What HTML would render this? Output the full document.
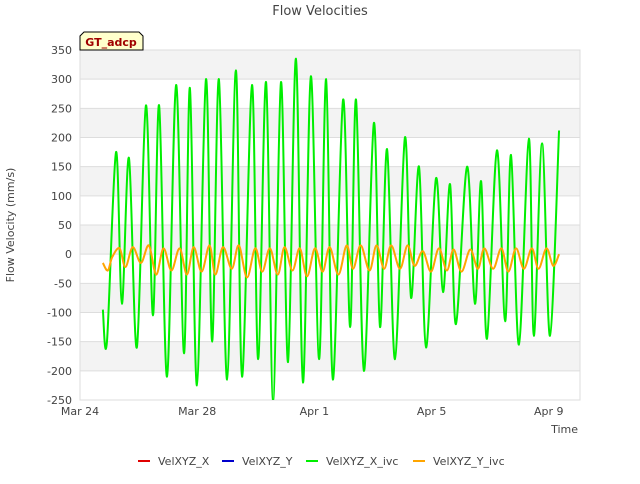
<!DOCTYPE html>
<html><head><meta charset="utf-8"><style>
body{margin:0;background:#fff;font-family:"DejaVu Sans","Liberation Sans",sans-serif}
</style></head><body>
<svg width="640" height="480" font-family="DejaVu Sans, Liberation Sans, sans-serif">
<defs><clipPath id="pc"><rect x="80" y="50" width="500" height="350"/></clipPath></defs>
<rect width="640" height="480" fill="#fff"/>
<g id="bands"></g>
<g id="grid"></g>
<rect x="80" y="50" width="500" height="350" fill="none" stroke="#ddd"/>
<text x="320" y="15" text-anchor="middle" font-size="13" fill="#444">Flow Velocities</text>
<text x="14" y="225" transform="rotate(-90 14 225)" text-anchor="middle" font-size="11" fill="#444">Flow Velocity (mm/s)</text>
<text x="578" y="433" text-anchor="end" font-size="11" fill="#444">Time</text>
<g id="yt" font-size="11" fill="#444" text-anchor="end"></g>
<g id="xt" font-size="11" fill="#444" text-anchor="middle"></g>
<g id="series" clip-path="url(#pc)"></g>
<g>
<path d="M80,50 L80,36 L84,32 L139,32 L143,36 L143,50 Z" fill="#ffffcc" stroke="#000"/>
<text x="111" y="46" text-anchor="middle" font-size="11" font-weight="bold" fill="#a00000">GT_adcp</text>
</g>
<g font-size="11" fill="#444">
<g><line x1="138" y1="461" x2="150" y2="461" stroke="#e00000" stroke-width="2"/><text x="158" y="465">VelXYZ_X</text></g>
<g><line x1="222" y1="461" x2="234" y2="461" stroke="#0000cc" stroke-width="2"/><text x="242" y="465">VelXYZ_Y</text></g>
<g><line x1="306" y1="461" x2="318" y2="461" stroke="#00ee00" stroke-width="2"/><text x="326" y="465">VelXYZ_X_ivc</text></g>
<g><line x1="413" y1="461" x2="425" y2="461" stroke="#ffa500" stroke-width="2"/><text x="433" y="465">VelXYZ_Y_ivc</text></g>
</g>
</svg>
<script>
const yTicks=[350,300,250,200,150,100,50,0,-50,-100,-150,-200,-250];
const xTickDays=[0,4,8,12,16];
const xTickLabels=["Mar 24","Mar 28","Apr 1","Apr 5","Apr 9"];
const greenDays=[0.78,0.92,1.23,1.43,1.67,1.94,2.25,2.49,2.70,2.97,3.28,3.55,3.75,3.99,4.30,4.51,4.74,5.02,5.32,5.53,5.87,6.08,6.35,6.59,6.86,7.10,7.37,7.61,7.88,8.16,8.40,8.63,8.98,9.22,9.42,9.69,10.03,10.24,10.48,10.75,11.09,11.30,11.57,11.81,12.15,12.39,12.63,12.83,13.21,13.48,13.69,13.89,14.23,14.51,14.71,14.98,15.32,15.49,15.77,16.04,16.35];
const greenVals=[-95,-150,175,-85,165,-160,255,-105,255,-210,290,-170,285,-225,300,-150,300,-215,315,-210,290,-180,295,-250,295,-185,335,-220,305,-180,300,-215,265,-125,265,-200,225,-125,180,-180,200,-75,150,-160,130,-65,120,-120,150,-85,125,-145,178,-115,170,-155,198,-140,190,-140,212];
const orangeDays=[0.78,0.95,1.10,1.35,1.55,1.80,2.08,2.35,2.60,2.85,3.12,3.40,3.65,3.88,4.15,4.42,4.62,4.88,5.18,5.42,5.70,5.98,6.22,6.48,6.75,6.98,7.25,7.50,7.75,8.02,8.28,8.52,8.82,9.10,9.32,9.58,9.88,10.12,10.38,10.62,10.92,11.18,11.42,11.70,11.98,12.25,12.52,12.75,13.02,13.32,13.58,13.80,14.10,14.38,14.62,14.88,15.15,15.42,15.65,15.92,16.15,16.35];
const orangeVals=[-15,-28,-5,10,-22,12,-15,15,-35,10,-28,10,-35,12,-30,15,-35,12,-25,15,-40,10,-30,10,-35,12,-28,10,-38,10,-30,12,-35,15,-25,15,-28,15,-25,15,-25,15,-20,5,-30,10,-28,8,-30,8,-25,10,-25,10,-30,10,-25,10,-25,10,-20,0];
const X=d=>80+d*29.3, Y=v=>50+(350-v)*350/600;
const ns="http://www.w3.org/2000/svg";
function mk(t,a,p){const e=document.createElementNS(ns,t);for(const k in a)e.setAttribute(k,a[k]);p.appendChild(e);return e;}
const bands=document.getElementById('bands'),grid=document.getElementById('grid'),yt=document.getElementById('yt'),xt=document.getElementById('xt'),ser=document.getElementById('series');
for(let i=0;i<yTicks.length-1;i+=2){const r=mk('rect',{x:80,y:Y(yTicks[i]),width:500,height:Y(yTicks[i+1])-Y(yTicks[i]),fill:'#f3f3f3'},bands);

}
yTicks.forEach(v=>{const l=mk('line',{x1:80,x2:580,y1:Y(v),y2:Y(v),stroke:'#ddd'},grid);


const t=mk('text',{x:72,y:Y(v)+4},yt);t.textContent=v;

});
xTickDays.forEach((d,i)=>{const t=mk('text',{x:X(d),y:415},xt);t.textContent=xTickLabels[i];

});
function path(ds,vs){const p=ds.map((d,i)=>[X(d),Y(vs[i])]);let s='M'+p[0][0]+','+p[0][1];
for(let i=0;i<p.length-1;i++){const p0=p[i-1]||p[i],p1=p[i],p2=p[i+1],p3=p[i+2]||p2;
s+=` C${p1[0]+(p2[0]-p0[0])/6},${p1[1]+(p2[1]-p0[1])/6} ${p2[0]-(p3[0]-p1[0])/6},${p2[1]-(p3[1]-p1[1])/6} ${p2[0]},${p2[1]}`;}return s;}
const g=mk('path',{d:path(greenDays,greenVals),fill:'none',stroke:'#00ee00','stroke-width':2},ser);


const o=mk('path',{d:path(orangeDays,orangeVals),fill:'none',stroke:'#ffa500','stroke-width':2},ser);


</script>
</body></html>
